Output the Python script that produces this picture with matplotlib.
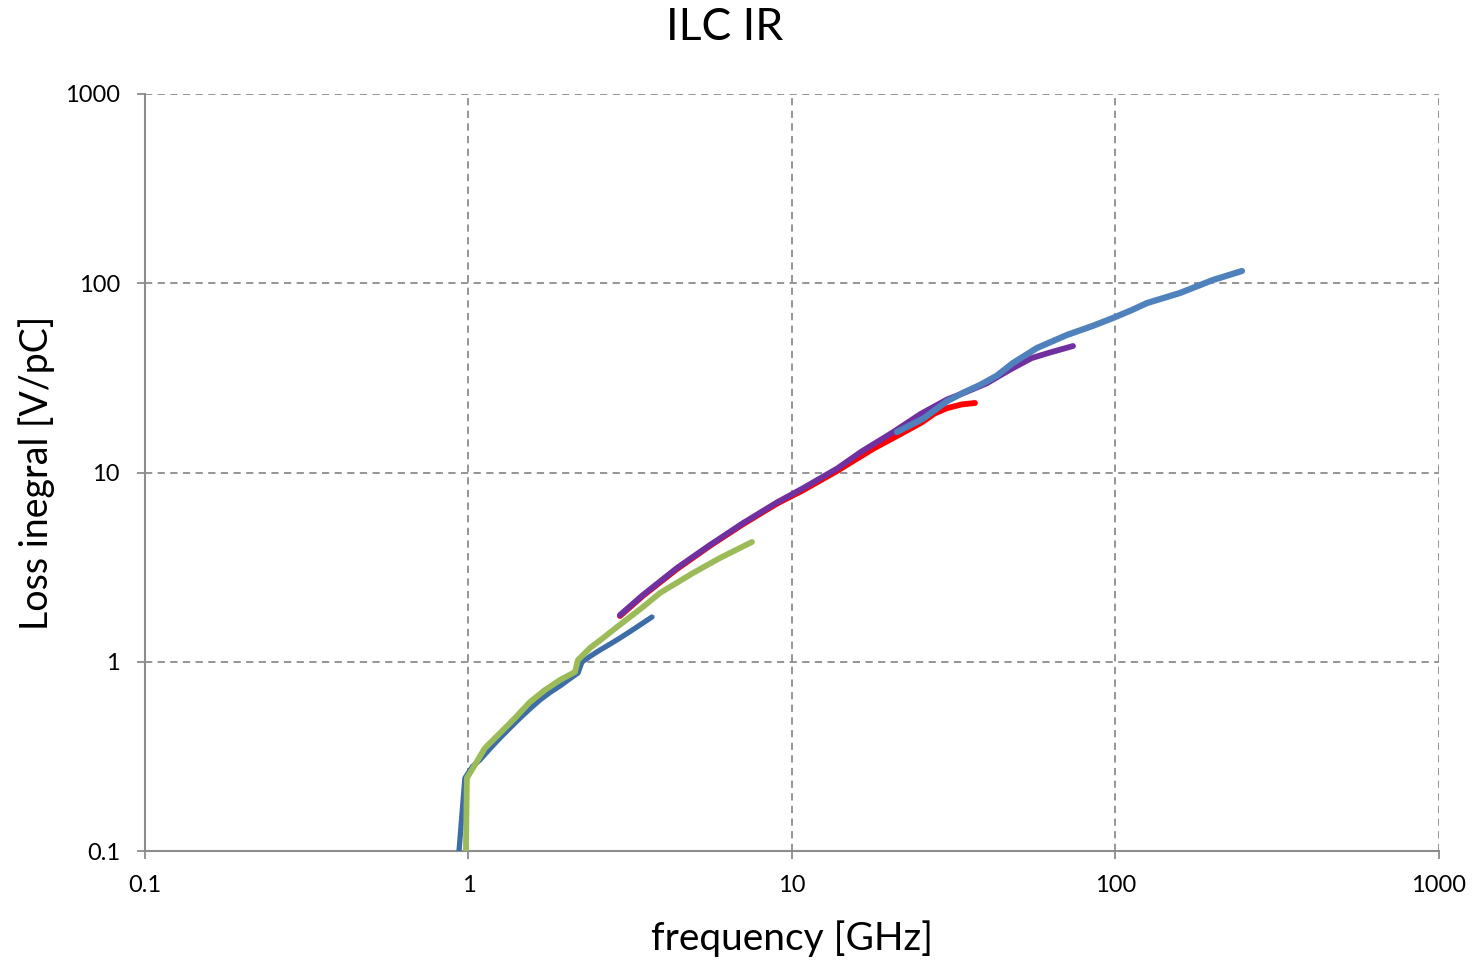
import matplotlib
matplotlib.use("Agg")
import matplotlib.pyplot as plt

plt.rcParams['font.family'] = ['Lato', 'DejaVu Sans']

# Dark blue series
f_dblue = [0.935, 0.975, 1.03, 1.085, 1.17, 1.252, 1.34, 1.443, 1.55, 1.663, 1.79, 1.918, 2.05, 2.180, 2.243, 2.40, 2.551, 2.74, 2.940, 3.15, 3.389, 3.692]
v_dblue = [0.1, 0.243, 0.280, 0.303, 0.350, 0.396, 0.445, 0.504, 0.565, 0.628, 0.690, 0.745, 0.810, 0.872, 0.997, 1.08, 1.154, 1.24, 1.335, 1.44, 1.564, 1.724]

# Green series
f_green = [0.982, 0.989, 1.047, 1.124, 1.252, 1.392, 1.549, 1.723, 1.918, 2.134, 2.180, 2.374, 2.600, 2.877, 3.462, 3.908, 4.943, 5.99, 7.52]
v_green = [0.1, 0.243, 0.285, 0.350, 0.420, 0.504, 0.613, 0.709, 0.801, 0.883, 1.021, 1.182, 1.33, 1.526, 1.947, 2.309, 2.944, 3.534, 4.293]

# Red series
f_red = [2.94, 3.462, 4.411, 5.579, 7.055, 8.988, 10.81, 13.8, 17.9, 21.57, 25.2, 27.6, 30.2, 33.5, 36.79]
v_red = [1.745, 2.23, 3.09, 4.10, 5.33, 6.85, 8.05, 10.2, 13.4, 15.9, 18.4, 20.5, 21.9, 22.9, 23.3]

# Purple series
f_purple = [2.94, 3.462, 4.411, 5.579, 7.055, 8.988, 10.81, 13.8, 16.4, 20.5, 25.0, 30.14, 34.5, 40.0, 47.0, 55.0, 62.0, 73.9]
v_purple = [1.766, 2.253, 3.130, 4.140, 5.40, 6.95, 8.25, 10.5, 12.9, 16.3, 20.4, 24.3, 26.6, 29.6, 34.8, 40.2, 42.8, 46.6]

# Light blue series
f_lblue = [21.12, 25.5, 30.14, 34.0, 38.12, 43.0, 48.22, 57.2, 70.8, 85.0, 98.2, 112.0, 125.2, 158.2, 200.1, 246.0]
v_lblue = [16.37, 19.3, 23.8, 26.5, 29.0, 32.5, 37.90, 45.5, 53.3, 59.5, 65.5, 72.0, 78.6, 88.8, 104.0, 116.1]

x_ticks = [0.1, 1, 10, 100, 1000]
x_labels = ["0.1", "1", "10", "100", "1000"]
y_ticks = [0.1, 1, 10, 100, 1000]
y_labels = ["0.1", "1", "10", "100", "1000"]

fig = plt.figure(figsize=(14.73, 9.6), dpi=100)
ax = fig.add_axes([0.0984, 0.1135, 0.8785, 0.7886])

lw = 4.2
ax.plot(f_dblue, v_dblue, color="#3C6DA6", lw=lw - 0.4, solid_capstyle="round", solid_joinstyle="round", zorder=3)
ax.plot(f_green, v_green, color="#9BBB59", lw=lw, solid_capstyle="round", solid_joinstyle="round", zorder=4)
ax.plot(f_red, v_red, color="#FF0000", lw=lw, solid_capstyle="round", solid_joinstyle="round", zorder=5)
ax.plot(f_purple, v_purple, color="#7030A0", lw=lw, solid_capstyle="round", solid_joinstyle="round", zorder=6)
ax.plot(f_lblue, v_lblue, color="#4F81BD", lw=lw + 0.3, solid_capstyle="round", solid_joinstyle="round", zorder=7)

ax.set_xscale("log")
ax.set_yscale("log")
ax.set_xlim(0.1, 1000)
ax.set_ylim(0.1, 1000)
ax.set_xticks(x_ticks)
ax.set_xticklabels(x_labels)
ax.set_yticks(y_ticks)
ax.set_yticklabels(y_labels)
ax.minorticks_off()

ax.grid(True, which="major", color="#8C8C8C", linestyle=(0, (4, 3)), linewidth=1.3)
ax.set_axisbelow(True)
for s in ["top", "right"]:
    ax.spines[s].set_visible(False)
for s in ["left", "bottom"]:
    ax.spines[s].set_color("#8C8C8C")
    ax.spines[s].set_linewidth(1.5)
    ax.spines[s].set_zorder(2)

ax.tick_params(axis="both", which="major", direction="out", length=6, width=1.3,
               color="#8C8C8C", labelsize=17, labelcolor="black")
ax.tick_params(axis="y", pad=12)
ax.tick_params(axis="x", pad=11)

fig.text(0.492, 0.971, "ILC IR", fontsize=32, ha="center", va="center")
ax.set_xlabel("frequency [GHz]", fontsize=28, labelpad=18)
ax.set_ylabel("Loss inegral [V/pC]", fontsize=27, labelpad=7)

fig.savefig("out.png", dpi=100)
